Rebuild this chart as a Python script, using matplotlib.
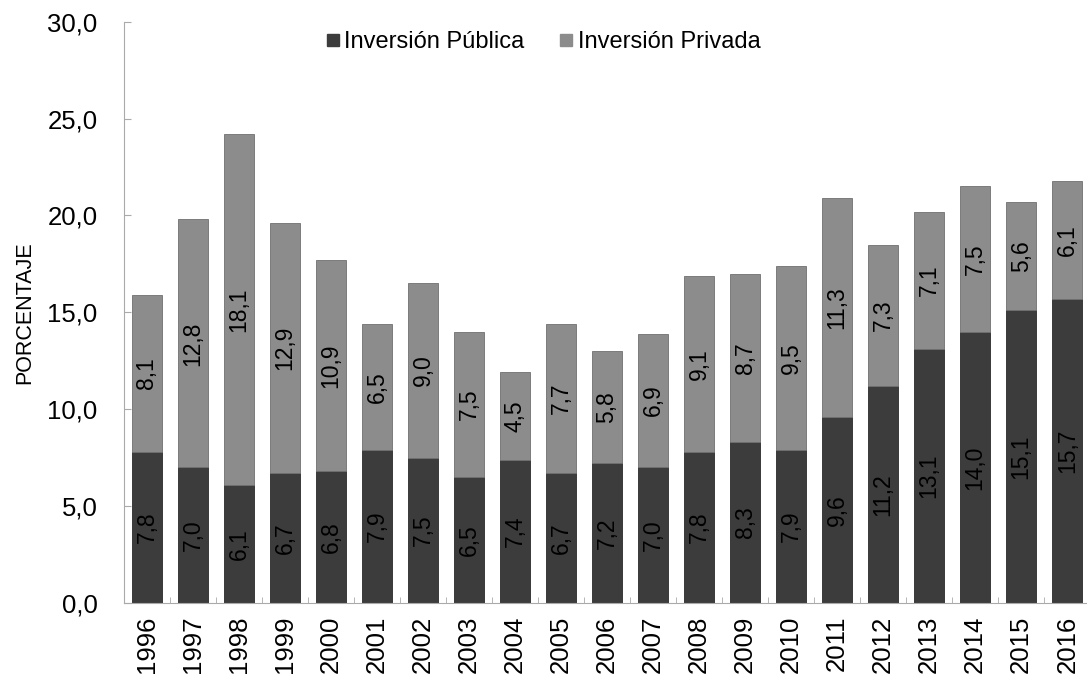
import numpy as np
import matplotlib.pyplot as plt
from matplotlib.lines import Line2D
from matplotlib.ticker import FixedLocator, FuncFormatter

plt.rcParams['font.family'] = ['Liberation Sans', 'DejaVu Sans']

# datos
anios = [str(a) for a in range(1996, 2017)]
publica = [7.8, 7.0, 6.1, 6.7, 6.8, 7.9, 7.5, 6.5, 7.4, 6.7, 7.2,
           7.0, 7.8, 8.3, 7.9, 9.6, 11.2, 13.1, 14.0, 15.1, 15.7]
privada = [8.1, 12.8, 18.1, 12.9, 10.9, 6.5, 9.0, 7.5, 4.5, 7.7, 5.8,
           6.9, 9.1, 8.7, 9.5, 11.3, 7.3, 7.1, 7.5, 5.6, 6.1]
series = ['Inversión Pública', 'Inversión Privada']

color_pub = '#3c3c3c'
color_priv = '#8c8c8c'

fig = plt.figure(figsize=(10.87, 6.79), dpi=100)
ax = fig.add_axes([0.114, 0.112, 0.889, 0.856])

x = np.arange(len(anios))
ancho = 0.65
ax.bar(x, publica, ancho, color=color_pub, edgecolor='#2a2a2a', linewidth=0.6)
ax.bar(x, privada, ancho, bottom=publica, color=color_priv, edgecolor='#707070',
       linewidth=0.6)

def coma(v):
    return f'{v:.1f}'.replace('.', ',')

for i in range(len(anios)):
    ax.text(x[i], publica[i] / 2, coma(publica[i]), rotation=90, ha='center',
            va='center', fontsize=16.5, color='black')
    ax.text(x[i], publica[i] + privada[i] / 2, coma(privada[i]), rotation=90,
            ha='center', va='center', fontsize=16.5, color='black')

ax.set_xlim(-0.5, len(anios) - 0.5)
ax.set_ylim(0, 30)
ax.set_yticks(np.arange(0, 31, 5))
ax.yaxis.set_major_formatter(FuncFormatter(lambda v, p: coma(v)))
ax.tick_params(axis='y', labelsize=18.5, length=5, direction='in',
               color='#aaaaaa', pad=19)

ax.set_xticks(x)
ax.set_xticklabels(anios, rotation=90, fontsize=18.5)
ax.tick_params(axis='x', length=0, pad=9)
ax.xaxis.set_minor_locator(FixedLocator(np.arange(-0.5, len(anios), 1)))
ax.tick_params(axis='x', which='minor', length=4, direction='in', color='#aaaaaa')

for s in ['top', 'right']:
    ax.spines[s].set_visible(False)
ax.spines['left'].set_color('#aaaaaa')
ax.spines['bottom'].set_color('#aaaaaa')

ax.set_ylabel('PORCENTAJE', fontsize=15.5, labelpad=9)

# leyenda con marcadores cuadrados
manejadores = [Line2D([], [], marker='s', linestyle='', markersize=8,
                      markerfacecolor=c, markeredgecolor=c)
               for c in [color_pub, color_priv]]
ax.legend(manejadores, series, loc='center left', bbox_to_anchor=(0.2, 0.965),
          ncol=2, frameon=False, fontsize=17, handlelength=0.5,
          handletextpad=0.25, columnspacing=1.5, borderaxespad=0)

fig.savefig('out.png', dpi=100)
